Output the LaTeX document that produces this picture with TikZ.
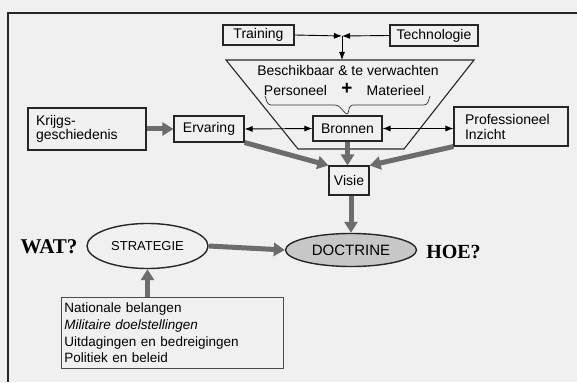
\documentclass[tikz,border=0pt]{standalone}
\usepackage{fontspec}
\setmainfont{Liberation Sans}
\newfontfamily\serifbold{Liberation Serif}
\usetikzlibrary{arrows.meta,shapes.geometric}
\definecolor{fatgrey}{RGB}{108,108,108}
\definecolor{paper}{RGB}{240,240,240}
\begin{document}
\begin{tikzpicture}[x=1pt,y=-1pt,
  box/.style={draw=black!85, line width=1.1pt, inner sep=0pt, font=\fontsize{14}{15}\selectfont},
  outline/.style={draw=black!85, line width=1.1pt},
  txt/.style={inner sep=0pt, font=\fontsize{14}{15}\selectfont},
  thinarrow/.style={draw=black, line width=0.9pt},
  fatarrow/.style={draw=fatgrey, line width=5pt, -{Triangle[length=11pt,width=13pt]}},
  oval/.style={draw=black!85, ellipse, line width=1.4pt, inner sep=0pt},
  bigq/.style={inner sep=0pt, font=\serifbold\bfseries\fontsize{21}{21}\selectfont}
]
\fill[paper] (0,0) rectangle (577,382);
\useasboundingbox (0,0) rectangle (577,382);
% frame (clipped)
\draw[line width=1.8pt, black!85] (8,382) -- (8,13) -- (577,13);

% top boxes
\node[box, minimum width=71pt, minimum height=20pt] (training) at (258.5,35) {Training};
\node[box, minimum width=88pt, minimum height=21pt] (techno) at (434,35.5) {Technologie};
\coordinate (junction) at (342,36);

% funnel
\coordinate (tl) at (226,60);
\coordinate (tr) at (474,60);
\coordinate (br) at (404,149);
\coordinate (bl) at (298,149);
\coordinate (ftop) at (342,60);
\draw[outline] (tl) -- (tr) -- (br) -- (bl) -- cycle;
\node[txt] (beschikbaar) at (348,70) {Beschikbaar \& te verwachten};
\node[txt] (personeel) at (295.5,90) {Personeel};
\node[inner sep=0pt, font=\bfseries\fontsize{19}{19}\selectfont] (plus) at (347,89) {+};
\node[txt] (materieel) at (395.5,90) {Materieel};

% middle boxes
\node[box, minimum width=118pt, minimum height=42pt, text width=102pt, inner xsep=8pt, align=left,
      font=\fontsize{14}{14}\selectfont] (krijgs) at (87,129) {Krijgs-\\geschiedenis};
\node[box, minimum width=70pt, minimum height=26pt] (ervaring) at (209,129) {Ervaring};
\node[box, minimum width=69pt, minimum height=25pt] (bronnen) at (347.5,128.5) {Bronnen};
\node[box, minimum height=39pt, text width=92pt, inner xsep=11pt, align=left] (prof) at (511,126.5) {Professioneel\\Inzicht};
\node[box, minimum width=40pt, minimum height=29pt] (visie) at (349,180.5) {Visie};

% brace
\draw[line width=0.7pt, black!80, rounded corners=3pt] (265,96) -- (268,105) -- (338,105) -- (bronnen.north) -- (350,105) -- (427,105) -- (430,96);

% ellipses
\node[oval, minimum width=121pt, minimum height=45pt, font=\fontsize{13}{13}\selectfont] (strategie) at (147.5,246) {STRATEGIE\hspace{8pt}};
\node[oval, fill=black!22, minimum width=131pt, minimum height=33pt, font=\fontsize{15}{15}\selectfont] (doctrine) at (351,250) {DOCTRINE};
\node[bigq] (wat) at (49,247) {WAT?};
\node[bigq, font=\serifbold\bfseries\fontsize{20}{20}\selectfont] (hoe) at (453.5,252) {HOE?};

% list box
\node[box, draw=black!70, line width=0.9pt, anchor=north west, text width=216pt, inner xsep=3pt, minimum height=71pt, align=left,
      font=\fontsize{13.5}{16.6}\selectfont] (list) at (61,297)
  {Nationale belangen\\\textit{Militaire doelstellingen}\\Uitdagingen en bedreigingen\\Politiek en beleid};

% thin arrows
\draw[thinarrow, -{Latex[length=8pt,width=6pt]}] (training.east) -- (junction);
\draw[thinarrow, -{Latex[length=8pt,width=6pt]}] (techno.west) -- (junction);
\draw[thinarrow, -{Latex[length=8pt,width=6pt]}] (junction) -- (ftop);
\draw[thinarrow, {Latex[length=8pt,width=6pt]}-{Latex[length=8pt,width=6pt]}] (ervaring.east) -- (bronnen.west);
\draw[thinarrow, {Latex[length=8pt,width=6pt]}-{Latex[length=8pt,width=6pt]}] (bronnen.east) -- (bronnen.east -| prof.west);

% fat arrows
\draw[fatarrow] (krijgs.east) -- (ervaring.west);
\draw[fatarrow] (ervaring.south east) -- (visie.north west);
\draw[fatarrow] (bronnen.south) -- (bronnen.south |- visie.north);
\draw[fatarrow] (prof.south west) -- (visie.north east);
\draw[fatarrow] (visie.south -| doctrine.north) -- (doctrine.north);
\draw[fatarrow] (strategie.east) -- (doctrine.west);
\draw[fatarrow] (strategie.south |- list.north) -- (strategie.south);
\end{tikzpicture}
\end{document}
